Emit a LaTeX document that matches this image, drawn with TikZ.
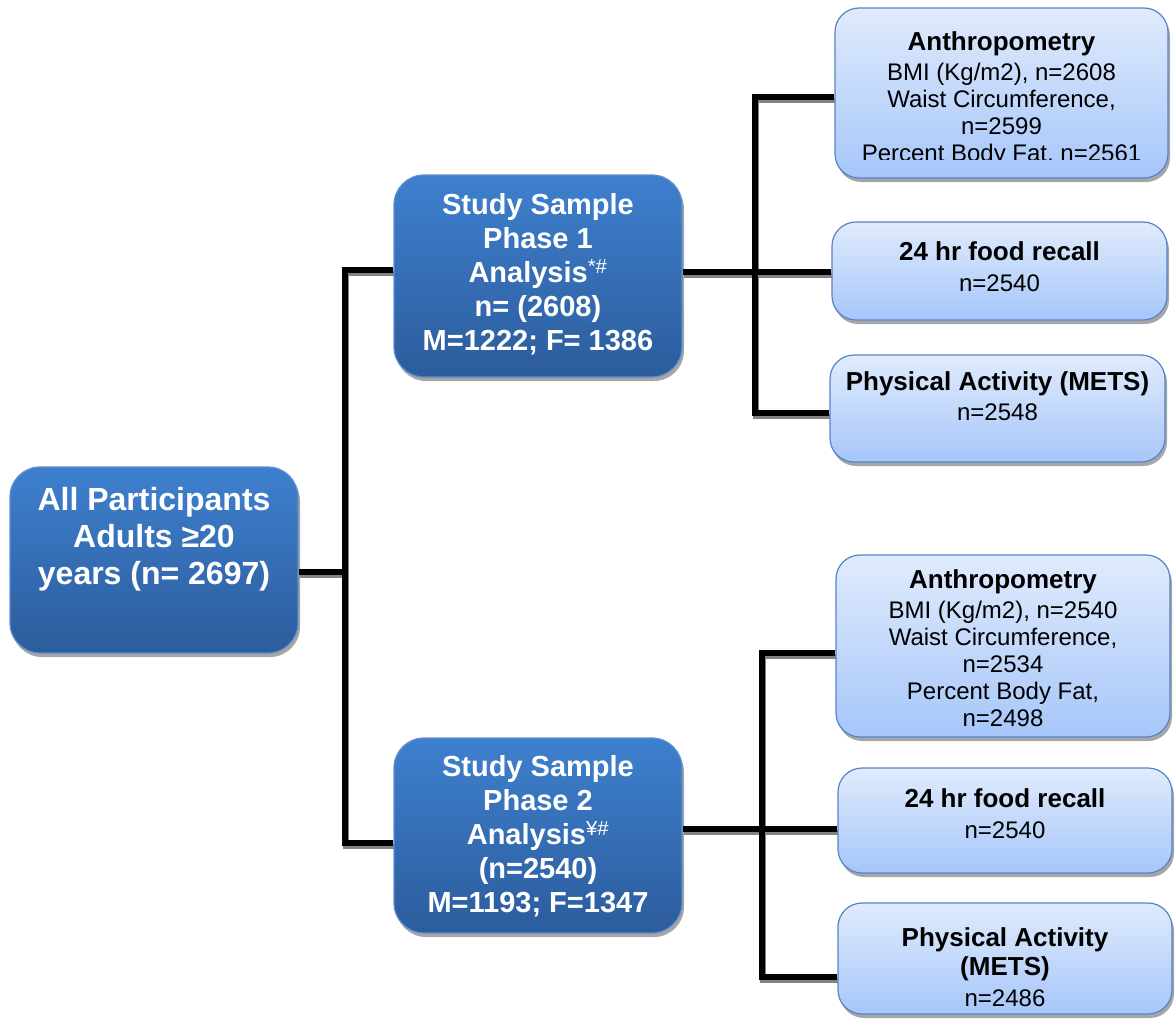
\documentclass[tikz,border=0pt]{standalone}
\usepackage{fontspec}
\setmainfont{Liberation Sans}
\usetikzlibrary{shadows,calc}
\definecolor{dtop}{RGB}{62,128,206}
\definecolor{dbot}{RGB}{44,92,156}
\definecolor{dborder}{RGB}{96,142,206}
\definecolor{ltop}{RGB}{224,235,252}
\definecolor{lbot}{RGB}{166,198,250}
\definecolor{lborder}{RGB}{86,132,198}
\definecolor{lineshadow}{RGB}{130,130,130}
\tikzset{
  boxshadow/.style={drop shadow={shadow xshift=2pt, shadow yshift=-4pt, fill=black, opacity=0.35}},
  darkbox/.style={draw=dborder, line width=1.2pt, rounded corners=30pt, top color=dtop, bottom color=dbot, inner sep=0pt, boxshadow},
  lightbox/.style={draw=lborder, line width=1.2pt, rounded corners=24pt, top color=ltop, bottom color=lbot, inner sep=0pt, boxshadow},
  darktext/.style={text=white, font=\bfseries\fontsize{29}{34}\selectfont, align=center, inner sep=0pt},
  lighttext/.style={text=black, font=\fontsize{24}{27}\selectfont, align=center, inner sep=0pt},
  conn/.style={line width=5.5pt, draw=black},
  connshadow/.style={line width=5.5pt, draw=lineshadow}
}
\newcommand\hd[1]{{\bfseries\fontsize{26}{30}\selectfont #1}}
% #1 = style, #2 = offset
\newcommand\drawconns[2]{%
  \draw[#1] ($(all.east |- j0)+#2$) -- ($(j0)+#2$);
  \draw[#1] ($(p1.west |- ja)+#2$) -- ($(ja)+#2$) -- ($(jb)+#2$) -- ($(p2.west |- jb)+#2$);
  \draw[#1] ($(p1.east |- k2)+#2$) -- ($(f1.west |- k2)+#2$);
  \draw[#1] ($(a1.west |- k1)+#2$) -- ($(k1)+#2$) -- ($(k3)+#2$) -- ($(pa1.west |- k3)+#2$);
  \draw[#1] ($(p2.east |- m2)+#2$) -- ($(f2.west |- m2)+#2$);
  \draw[#1] ($(a2.west |- m1)+#2$) -- ($(m1)+#2$) -- ($(m3)+#2$) -- ($(pa2.west |- m3)+#2$);
}
\begin{document}
\begin{tikzpicture}[x=1pt, y=-1pt]
\useasboundingbox[fill=white] (0,0) rectangle (1176,1028);

% junction coordinates
\coordinate (j0) at (345,572);
\coordinate (ja) at (345,270);
\coordinate (jb) at (345,843);
\coordinate (k1) at (755,97);
\coordinate (k2) at (755,272);
\coordinate (k3) at (755,413);
\coordinate (m1) at (762,653);
\coordinate (m2) at (762,829);
\coordinate (m3) at (762,977);

% dark boxes
\node[darkbox, minimum width=288pt, minimum height=186pt] (all) at (154,560) {};
\node[darktext, font=\bfseries\fontsize{32}{37}\selectfont] (allt) at (154,539) {All Participants\\Adults ≥20\\years (n= 2697)};

\node[darkbox, minimum width=288pt, minimum height=202pt] (p1) at (538,276) {};
\node[darktext] (p1t) at (538,274) {Study Sample\\Phase 1\\Analysis\textsuperscript{\mdseries *\#}\\n= (2608)\\M=1222; F= 1386};

\node[darkbox, minimum width=288pt, minimum height=195pt] (p2) at (538,835.5) {};
\node[darktext] (p2t) at (538,836) {Study Sample\\Phase 2\\Analysis\textsuperscript{\mdseries ¥\#}\\(n=2540)\\M=1193; F=1347};

% light boxes, phase 1
\node[lightbox, minimum width=333pt, minimum height=170pt] (a1) at (1001.5,93) {};
\begin{scope}
  \clip (830,8) rectangle (1172,159);
  \node[lighttext] (a1t) at (1001.5,99) {\hd{Anthropometry}\\[3pt]BMI (Kg/m2), n=2608\\Waist Circumference,\\n=2599\\Percent Body Fat, n=2561};
\end{scope}

\node[lightbox, minimum width=335pt, minimum height=98pt] (f1) at (999.5,271) {};
\node[lighttext] (f1t) at (999.5,267) {\hd{24 hr food recall}\\[4pt]n=2540};

\node[lightbox, minimum width=335pt, minimum height=107pt] (pa1) at (997.5,408.5) {};
\node[lighttext] (pa1t) at (997.5,396) {\hd{Physical Activity (METS)}\\[3pt]n=2548};

% light boxes, phase 2
\node[lightbox, minimum width=334pt, minimum height=182pt] (a2) at (1003,646) {};
\node[lighttext] (a2t) at (1003,648) {\hd{Anthropometry}\\[3pt]BMI (Kg/m2), n=2540\\Waist Circumference,\\n=2534\\Percent Body Fat,\\n=2498};

\node[lightbox, minimum width=334pt, minimum height=105pt] (f2) at (1005,820.5) {};
\node[lighttext] (f2t) at (1005,814) {\hd{24 hr food recall}\\[4pt]n=2540};

\node[lightbox, minimum width=334pt, minimum height=111pt] (pa2) at (1005,958.5) {};
\node[lighttext] (pa2t) at (1005,967) {\hd{Physical Activity}\\[2pt]\hd{(METS)}\\[4pt]n=2486};

% connectors: shadow then line
\drawconns{connshadow}{(1,3.5)}
\drawconns{conn}{(0,0)}
\end{tikzpicture}
\end{document}
